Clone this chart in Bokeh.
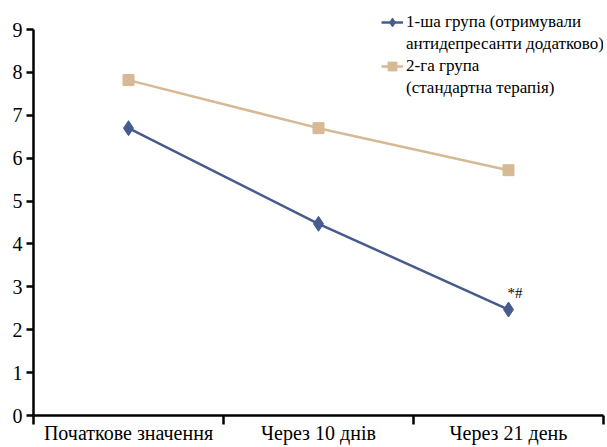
from bokeh.plotting import figure
from bokeh.models import FixedTicker, Legend, LegendItem, Range1d, Label
from bokeh.embed import file_html
from bokeh.resources import INLINE

categories = ["Початкове значення", "Через 10 днів", "Через 21 день"]
group1 = [6.7, 4.47, 2.47]
group2 = [7.82, 6.7, 5.72]
series_names = [["1-ша група (отримували", "антидепресанти додатково)"],
                ["2-га група", "(стандартна терапія)"]]
y_ticks = [0, 1, 2, 3, 4, 5, 6, 7, 8, 9]
annotation = "*#"

FONT = "Liberation Sans Narrow"
BLUE = "#475b8e"
TAN = "#d6b995"

xs = [i + 0.5 for i in range(len(categories))]

p = figure(width=607, height=447, output_backend="svg", toolbar_location=None,
           x_range=Range1d(0, 3), y_range=Range1d(0, 9.56),
           min_border_left=33, min_border_right=4, min_border_top=5, min_border_bottom=32)
p.outline_line_color = None
p.grid.visible = False
p.background_fill_color = "white"
p.border_fill_color = "white"

r1l = p.line(xs, group1, line_color=BLUE, line_width=2.5)
r1m = p.scatter(xs, group1, marker="diamond", size=15, fill_color=BLUE, line_color=BLUE)
r2l = p.line(xs, group2, line_color=TAN, line_width=2.5)
r2m = p.scatter(xs, group2, marker="square", size=11, fill_color=TAN, line_color=TAN)
# invisible renderer for the second lines of the legend labels
blank = p.line([], [], line_alpha=0)

p.add_layout(Label(x=xs[2], y=group1[2], text=annotation, x_offset=-1, y_offset=9,
                   text_font=FONT, text_font_size="15px", text_color="black"))

p.xaxis.ticker = FixedTicker(ticks=xs, minor_ticks=[0, 1, 2, 3])
p.xaxis.major_label_overrides = {x: c for x, c in zip(xs, categories)}
p.xaxis.major_tick_out = 0
p.xaxis.major_tick_in = 0
p.xaxis.minor_tick_out = 9
p.xaxis.minor_tick_in = 0
p.xaxis.minor_tick_line_width = 2.5
p.xaxis.minor_tick_line_color = "black"
p.xaxis.major_label_standoff = -3

p.yaxis.ticker = FixedTicker(ticks=y_ticks)
p.yaxis.bounds = (y_ticks[0], y_ticks[-1])
p.yaxis.major_tick_out = 7
p.yaxis.major_tick_in = 0
p.yaxis.minor_tick_out = 0
p.yaxis.major_label_standoff = 4

for ax in (p.xaxis, p.yaxis):
    ax.axis_line_width = 2.5
    ax.axis_line_color = "black"
    ax.major_tick_line_width = 2.5
    ax.major_tick_line_color = "black"
    ax.major_label_text_font = FONT
    ax.major_label_text_font_size = "20px"
    ax.major_label_text_color = "black"

items = [LegendItem(label=series_names[0][0], renderers=[r1l, r1m]),
         LegendItem(label=series_names[0][1], renderers=[blank]),
         LegendItem(label=series_names[1][0], renderers=[r2l, r2m]),
         LegendItem(label=series_names[1][1], renderers=[blank])]
legend = Legend(items=items,
                location=(348, 316), background_fill_alpha=0, border_line_color=None,
                label_text_font=FONT, label_text_font_size="17px", label_text_color="black",
                label_height=22, glyph_height=22,
                glyph_width=22, spacing=0, padding=2, margin=0, label_standoff=3)
p.add_layout(legend)

open("out.html", "w").write(file_html(p, INLINE))
